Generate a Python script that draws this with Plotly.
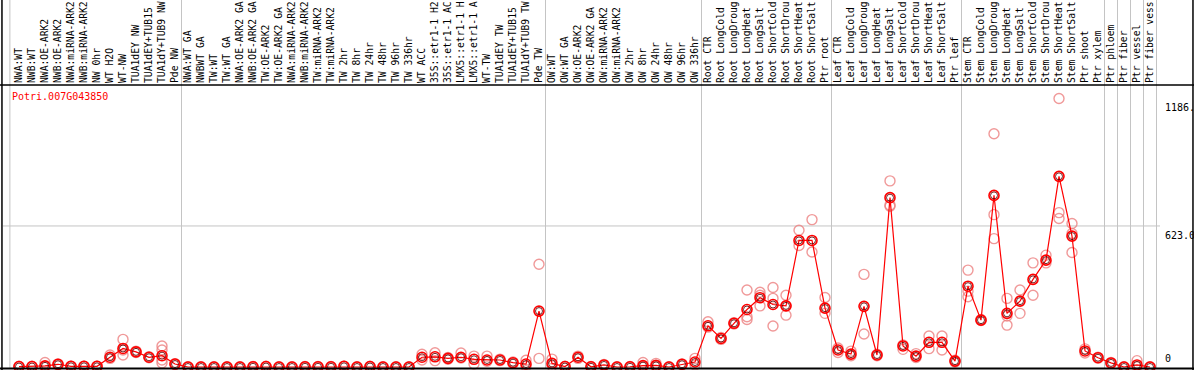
import plotly.graph_objects as go

# ---------------- data ----------------
gene_id = "Potri.007G043850"

categories = [
    # normal wood
    "NWA:WT", "NWB:WT", "NWA:OE-ARK2", "NWB:OE-ARK2", "NWA:miRNA-ARK2", "NWB:miRNA-ARK2",
    "NW 0hr", "WT H2O", "WT-NW", "TUA1dEY NW", "TUA1dEY+TUB15", "TUA1dY+TUB9 NW", "Pde NW",
    # tension wood
    "NWA:WT GA", "NWBWT GA", "TW:WT", "TW:WT GA", "NWA:OE-ARK2 GA", "NWB:OE-ARK2 GA",
    "TW:OE-ARK2", "TW:OE-ARK2 GA", "NWA:miRNA-ARK2", "NWB:miRNA-ARK2", "TW:miRNA-ARK2",
    "TW:miRNA-ARK2", "TW 2hr", "TW 8hr", "TW 24hr", "TW 48hr", "TW 96hr", "TW 336hr",
    "WT ACC", "35S::etr1-1 H2", "35S::etr1-1 AC", "LMX5::etr1-1 H", "LMX5::etr1-1 A",
    "WT-TW", "TUA1dEY TW", "TUA1dEY+TUB15", "TUA1dY+TUB9 TW", "Pde TW",
    # opposite wood
    "OW:WT", "OW:WT GA", "OW:OE-ARK2", "OW:OE-ARK2 GA", "OW:miRNA-ARK2", "OW:miRNA-ARK2",
    "OW 2hr", "OW 8hr", "OW 24hr", "OW 48hr", "OW 96hr", "OW 336hr",
    # root
    "Root CTR", "Root LongCold", "Root LongDroug", "Root LongHeat", "Root LongSalt",
    "Root ShortCold", "Root ShortDrou", "Root ShortHeat", "Root ShortSalt", "Ptr root",
    # leaf
    "Leaf CTR", "Leaf LongCold", "Leaf LongDroug", "Leaf LongHeat", "Leaf LongSalt",
    "Leaf ShortCold", "Leaf ShortDrou", "Leaf ShortHeat", "Leaf ShortSalt", "Ptr leaf",
    # stem
    "Stem CTR", "Stem LongCold", "Stem LongDroug", "Stem LongHeat", "Stem LongSalt",
    "Stem ShortCold", "Stem ShortDrou", "Stem ShortHeat", "Stem ShortSalt", "Ptr shoot",
    "Ptr xylem",
    # wood cell types
    "Ptr phloem", "Ptr fiber", "Ptr vessel", "Ptr fiber vess",
]

group_sizes = [13, 28, 12, 10, 10, 11, 1, 1, 1, 1]

means = [
    2, 2, 5, 12, 3, 3, 3, 43, 82, 67, 43, 50, 13,
    0, 0, 0, 0, 0, 1, 2, 0, 0, 1, 1, 1, 3, 0, 2, 0, 0, 0,
    43, 45, 38, 43, 34, 31, 31, 19, 13, 247,
    16, 2, 43, 1, 9, 0, 1, 6, 7, 0, 12, 22,
    182, 126, 193, 254, 306, 276, 270, 559, 559, 260,
    75, 57, 268, 53, 748, 93, 48, 109, 109, 26,
    357, 207, 758, 237, 291, 387, 472, 842, 578, 71, 41,
    18, 0, 9, 0,
]

replicates = [
    [1, 3], [2, 3], [20, 2], [10, 14], [2, 4], [2, 4], [2, 4], [53, 38], [122, 75, 53],
    [70, 64], [45, 41], [93, 75, 31, 18], [11, 15],
    [0, 1], [0, 1], [0, 1], [0, 1], [0, 1], [0, 2], [1, 3], [0, 1], [0, 1], [0, 2],
    [0, 2], [0, 2], [2, 4], [0, 1], [1, 3], [0, 1], [0, 1], [0, 0],
    [56, 31], [63, 28], [42, 34], [62, 40], [48, 13], [48, 25], [35, 28], [22, 16],
    [30, 3], [454, 38],
    [35, 5], [1, 3], [48, 38], [0, 2], [7, 11], [0, 1], [0, 2], [20, 2], [16, 3],
    [0, 1], [10, 14], [38, 9],
    [200, 176], [122, 130], [190, 196], [340, 222, 210], [317, 270, 330],
    [351, 303, 181], [317, 229, 270], [604, 537], [651, 508], [307, 237],
    [84, 64], [70, 50], [409, 146], [50, 56], [822, 710, 715], [78, 97], [59, 42],
    [137, 81], [137, 75], [22, 30],
    [428, 310, 335], [205, 210], [1030, 673, 567], [303, 225, 185], [340, 237],
    [460, 317], [494, 460], [1186, 682, 656], [634, 590, 506], [80, 62], [39, 43],
    [16, 20], [0, 1], [28, 2], [0, 1],
]

y_ticks = [0, 623, 1186]
y_tick_text = ["0", "623.0", "1186."]

# ---------------- figure ----------------
idx = list(range(1, len(categories) + 1))

rep_x, rep_y = [], []
for i, reps in zip(idx, replicates):
    for v in reps:
        rep_x.append(i)
        rep_y.append(v)

MONO = "DejaVu Sans Mono"
RED = "#ff0000"
GRID = "#c4c4c4"
PINK = "rgba(236,128,128,0.8)"

fig = go.Figure()

# replicate points
fig.add_trace(go.Scatter(
    x=rep_x, y=rep_y, mode="markers",
    marker=dict(symbol="circle-open", size=10, color=PINK, line=dict(width=1.4, color=PINK)),
    hoverinfo="skip", showlegend=False, cliponaxis=False,
))
# mean line
fig.add_trace(go.Scatter(
    x=idx, y=means, mode="lines",
    line=dict(color=RED, width=1.2),
    hoverinfo="skip", showlegend=False,
))
# mean markers (red ring with dark inner ring)
fig.add_trace(go.Scatter(
    x=idx, y=means, mode="markers",
    marker=dict(symbol="circle-open", size=10, color=RED, line=dict(width=1.6, color=RED)),
    hoverinfo="skip", showlegend=False, cliponaxis=False,
))
fig.add_trace(go.Scatter(
    x=idx, y=means, mode="markers",
    marker=dict(symbol="circle-open", size=7, color="rgba(90,0,0,0.85)",
                line=dict(width=1, color="rgba(90,0,0,0.85)")),
    hoverinfo="skip", showlegend=False, cliponaxis=False,
))

# group separator lines (full height, through label area)
bounds = [0.3]
acc = 0
for g in group_sizes:
    acc += g
    bounds.append(acc + 0.5)

shapes = []
for b in bounds:
    shapes.append(dict(type="line", xref="x", yref="paper", x0=b, x1=b, y0=0, y1=1.31,
                       line=dict(color=GRID, width=1), layer="below"))
# horizontal grid line at middle tick
shapes.append(dict(type="line", xref="paper", yref="y", x0=0, x1=1, y0=y_ticks[1], y1=y_ticks[1],
                   line=dict(color=GRID, width=1), layer="below"))
# black frame
shapes += [
    dict(type="line", xref="paper", yref="paper", x0=-0.0009, x1=-0.0009, y0=-0.01, y1=1.31,
         line=dict(color="black", width=1.5)),
    dict(type="line", xref="paper", yref="paper", x0=1.0285, x1=1.0285, y0=-0.01, y1=1.31,
         line=dict(color="black", width=1.5)),
    dict(type="line", xref="paper", yref="paper", x0=-0.003, x1=1.03, y0=0.002, y1=0.002,
         line=dict(color="black", width=2)),
    dict(type="line", xref="paper", yref="paper", x0=-0.003, x1=1.03, y0=1, y1=1,
         line=dict(color="black", width=1.5)),
]

annotations = [
    dict(text=gene_id, xref="paper", yref="paper", x=0.006, y=0.958, xanchor="left",
         yanchor="middle", showarrow=False, font=dict(family=MONO, size=10, color=RED)),
]
for v, t in zip(y_ticks, y_tick_text):
    if v == 0:
        ya, ys = "bottom", 1
    else:
        ya, ys = "top", -2
    annotations.append(dict(text=t, xref="paper", yref="y", x=1.0024, y=v, xanchor="left",
                            yanchor=ya, yshift=ys, showarrow=False,
                            font=dict(family=MONO, size=10, color="black")))

fig.update_layout(
    width=1194, height=370,
    margin=dict(l=3, r=34, t=85, b=1, pad=0),
    paper_bgcolor="white", plot_bgcolor="white",
    showlegend=False,
    shapes=shapes,
    annotations=annotations,
    xaxis=dict(
        range=[-0.2308, 88.769], side="top", tickmode="array", tickvals=idx,
        ticktext=categories, tickangle=-90, ticks="", showgrid=False, zeroline=False,
        showline=False, automargin=False, ticklabelstandoff=1,
        tickfont=dict(family=MONO, size=9.7, color="black"),
    ),
    yaxis=dict(
        range=[-8.83, 1245.6], showticklabels=False, ticks="", showgrid=False,
        zeroline=False, showline=False, automargin=False,
    ),
)

fig.write_html("out.html", config={"displayModeBar": False},
               post_script="document.body.style.margin='0px';")
